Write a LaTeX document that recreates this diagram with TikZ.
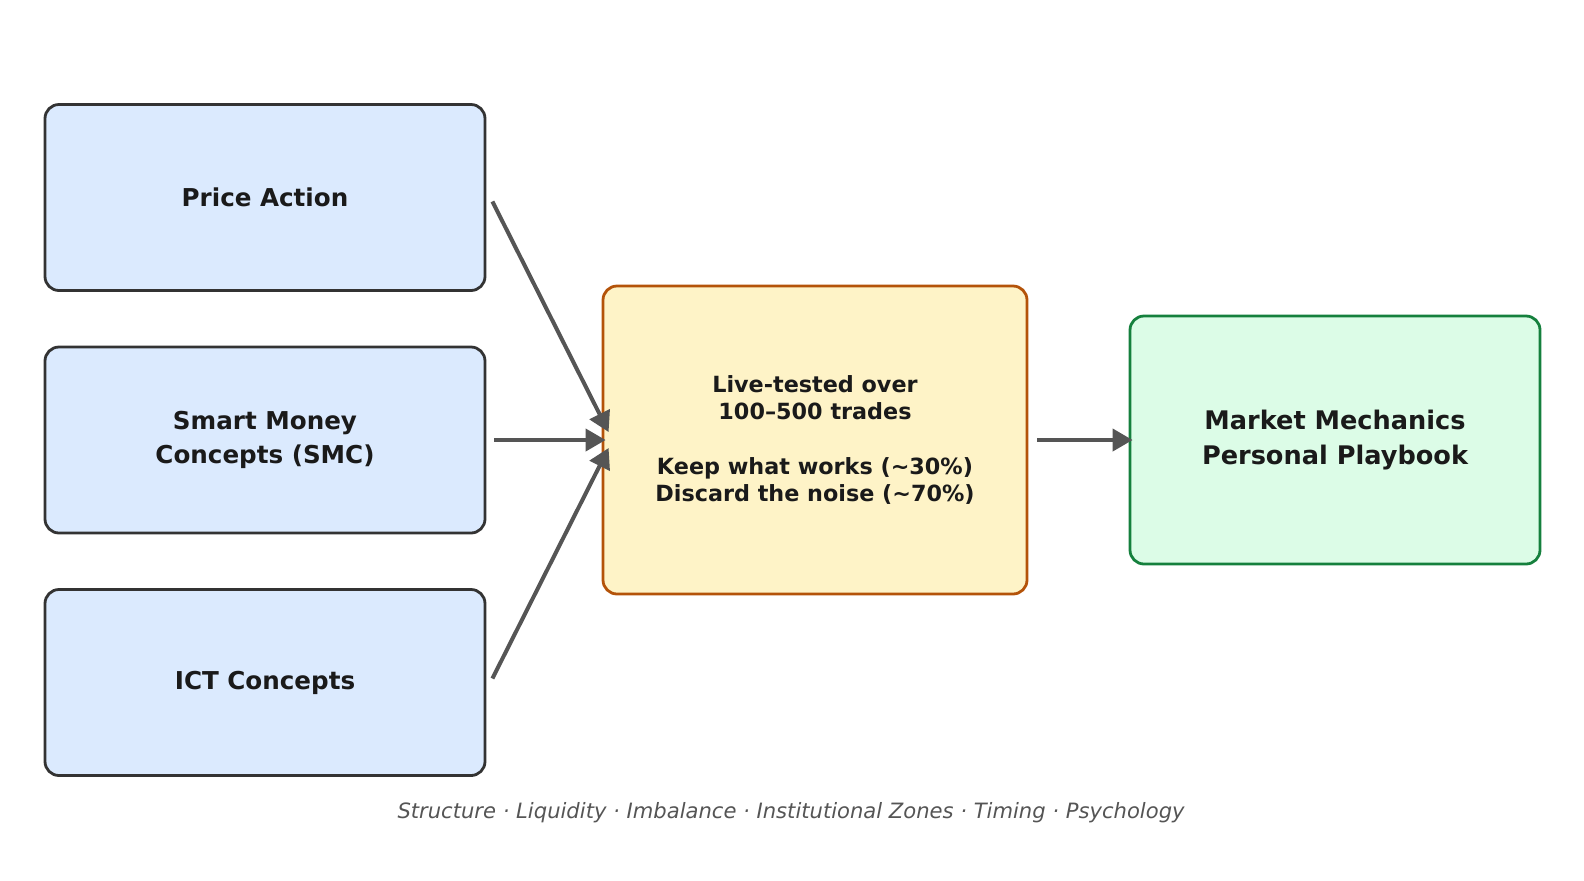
\documentclass[tikz,border=0pt]{standalone}
\usepackage{fontspec}
\setmainfont{DejaVu Sans}
\usetikzlibrary{arrows.meta}
\definecolor{inkc}{HTML}{1A1A1A}
\definecolor{edgec}{HTML}{333333}
\definecolor{flowc}{HTML}{555555}
\definecolor{bluef}{HTML}{DBEAFE}
\definecolor{yellf}{HTML}{FEF3C7}
\definecolor{yelld}{HTML}{B45309}
\definecolor{greenf}{HTML}{DCFCE7}
\definecolor{greend}{HTML}{15803D}
\newcommand{\apx}{{\char"7E}}
\begin{document}
\begin{tikzpicture}[x=0.5pt, y=-0.5pt,
		srcbox/.style={rectangle, rounded corners=7pt, draw=edgec, line width=1.4pt,
		fill=bluef, minimum width=220pt, minimum height=93pt, align=center,
		text=inkc, font=\fontsize{12.3}{17}\selectfont\bfseries},
		testbox/.style={rectangle, rounded corners=7pt, draw=yelld, line width=1.4pt,
		fill=yellf, minimum width=212pt, minimum height=154pt, align=center,
		text=inkc, font=\fontsize{11.15}{13.7}\selectfont\bfseries},
		bookbox/.style={rectangle, rounded corners=7pt, draw=greend, line width=1.4pt,
		fill=greenf, minimum width=205pt, minimum height=124pt, align=center,
		text=inkc, font=\fontsize{12.8}{17.5}\selectfont\bfseries},
		flow/.style={draw=flowc, line width=2pt,
		-{Triangle[length=10pt, width=11pt, fill=flowc]}} ]
	\useasboundingbox (0,0) rectangle (1584,880);
	\node[srcbox] (pa) at (265,197.5) {Price Action};
	\node[srcbox] (smc) at (265,440) {Smart Money\\Concepts (SMC)};
	\node[srcbox] (ict) at (265,682.5) {ICT Concepts};
	\node[testbox] (live) at (815,440) {Live-tested over\\100–500 trades\\[13.7pt]Keep what works (\apx30\%)\\Discard the noise (\apx70\%)};
	\node[bookbox] (book) at (1335,440) {Market Mechanics\\Personal Playbook};
	\node[text=flowc, font=\fontsize{10.55}{12}\selectfont\itshape] (themes) at (791,813)
		{Structure · Liquidity · Imbalance · Institutional Zones · Timing · Psychology};
	\draw[flow] ([xshift=3pt,yshift=-2pt]pa.east) -- ([xshift=3.5pt,yshift=4pt]live.west);
	\draw[flow] ([xshift=4pt]smc.east) -- ([xshift=2pt]live.west);
	\draw[flow] ([xshift=3pt,yshift=2pt]ict.east) -- ([xshift=3.5pt,yshift=-4pt]live.west);
	\draw[flow] ([xshift=4.5pt]live.east) -- ([xshift=2pt]book.west);
\end{tikzpicture}
\end{document}
